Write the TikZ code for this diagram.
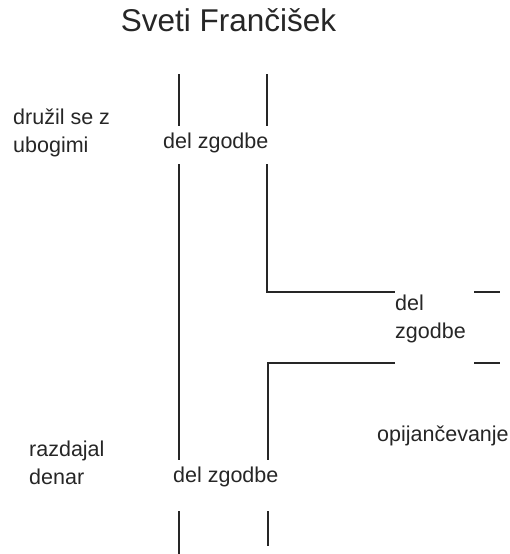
\documentclass[tikz,border=0pt]{standalone}
\usepackage{fontspec}
\setmainfont{Liberation Sans}
\begin{document}
\begin{tikzpicture}[
        x=1pt, y=-1pt,
        font=\fontsize{21.5}{27.5}\selectfont,
        crta/.style={line width=1.6pt, black!85},
        oznaka/.style={inner sep=0pt, anchor=base west, align=left, text=black!85}
    ]
        \useasboundingbox (0,0) rectangle (509,554);

        % Naslov
        \node[anchor=base, inner sep=0pt, text=black!85, font=\fontsize{31.5}{36}\selectfont] (naslov) at (228.5,31.5) {Sveti Frančišek};

        % Oznake (pri vecvrsticnih je base zadnja vrstica)
        \node[oznaka] (druzil) at (13,152) {družil se z\\ubogimi};
        \node[oznaka] (dz1) at (163,148) {del zgodbe};
        \node[oznaka] (dz2) at (395,338) {del\\zgodbe};
        \node[oznaka] (opij) at (377,441) {opijančevanje};
        \node[oznaka] (razd) at (29,484) {razdajal\\denar};
        \node[oznaka] (dz3) at (173,482) {del zgodbe};

        % Tocke
        \coordinate (l1) at (179,74);
        \coordinate (l2) at (179,126);
        \coordinate (l3) at (179,164);
        \coordinate (l4) at (179,460);
        \coordinate (l5) at (179,511);
        \coordinate (l6) at (179,554);
        \coordinate (d1) at (267,74);
        \coordinate (d2) at (267,126);
        \coordinate (d3) at (267,164);
        \coordinate (d4) at (267,292);
        \coordinate (d5) at (395,292);
        \coordinate (d6) at (474,292);
        \coordinate (d7) at (500,292);
        \coordinate (s1) at (395,363);
        \coordinate (s2) at (268,363);
        \coordinate (s3) at (268,460);
        \coordinate (s4) at (474,363);
        \coordinate (s5) at (500,363);
        \coordinate (s6) at (268,511);
        \coordinate (s7) at (268,546);

        % Leva crta
        \draw[crta] (l1) -- (l2);
        \draw[crta] (l3) -- (l4);
        \draw[crta] (l5) -- (l6);

        % Desna crta
        \draw[crta] (d1) -- (d2);
        \draw[crta] (d3) -- (d4) -- (d5);
        \draw[crta] (d6) -- (d7);
        \draw[crta] (s1) -- (s2) -- (s3);
        \draw[crta] (s4) -- (s5);
        \draw[crta] (s6) -- (s7);

    \end{tikzpicture}
\end{document}
